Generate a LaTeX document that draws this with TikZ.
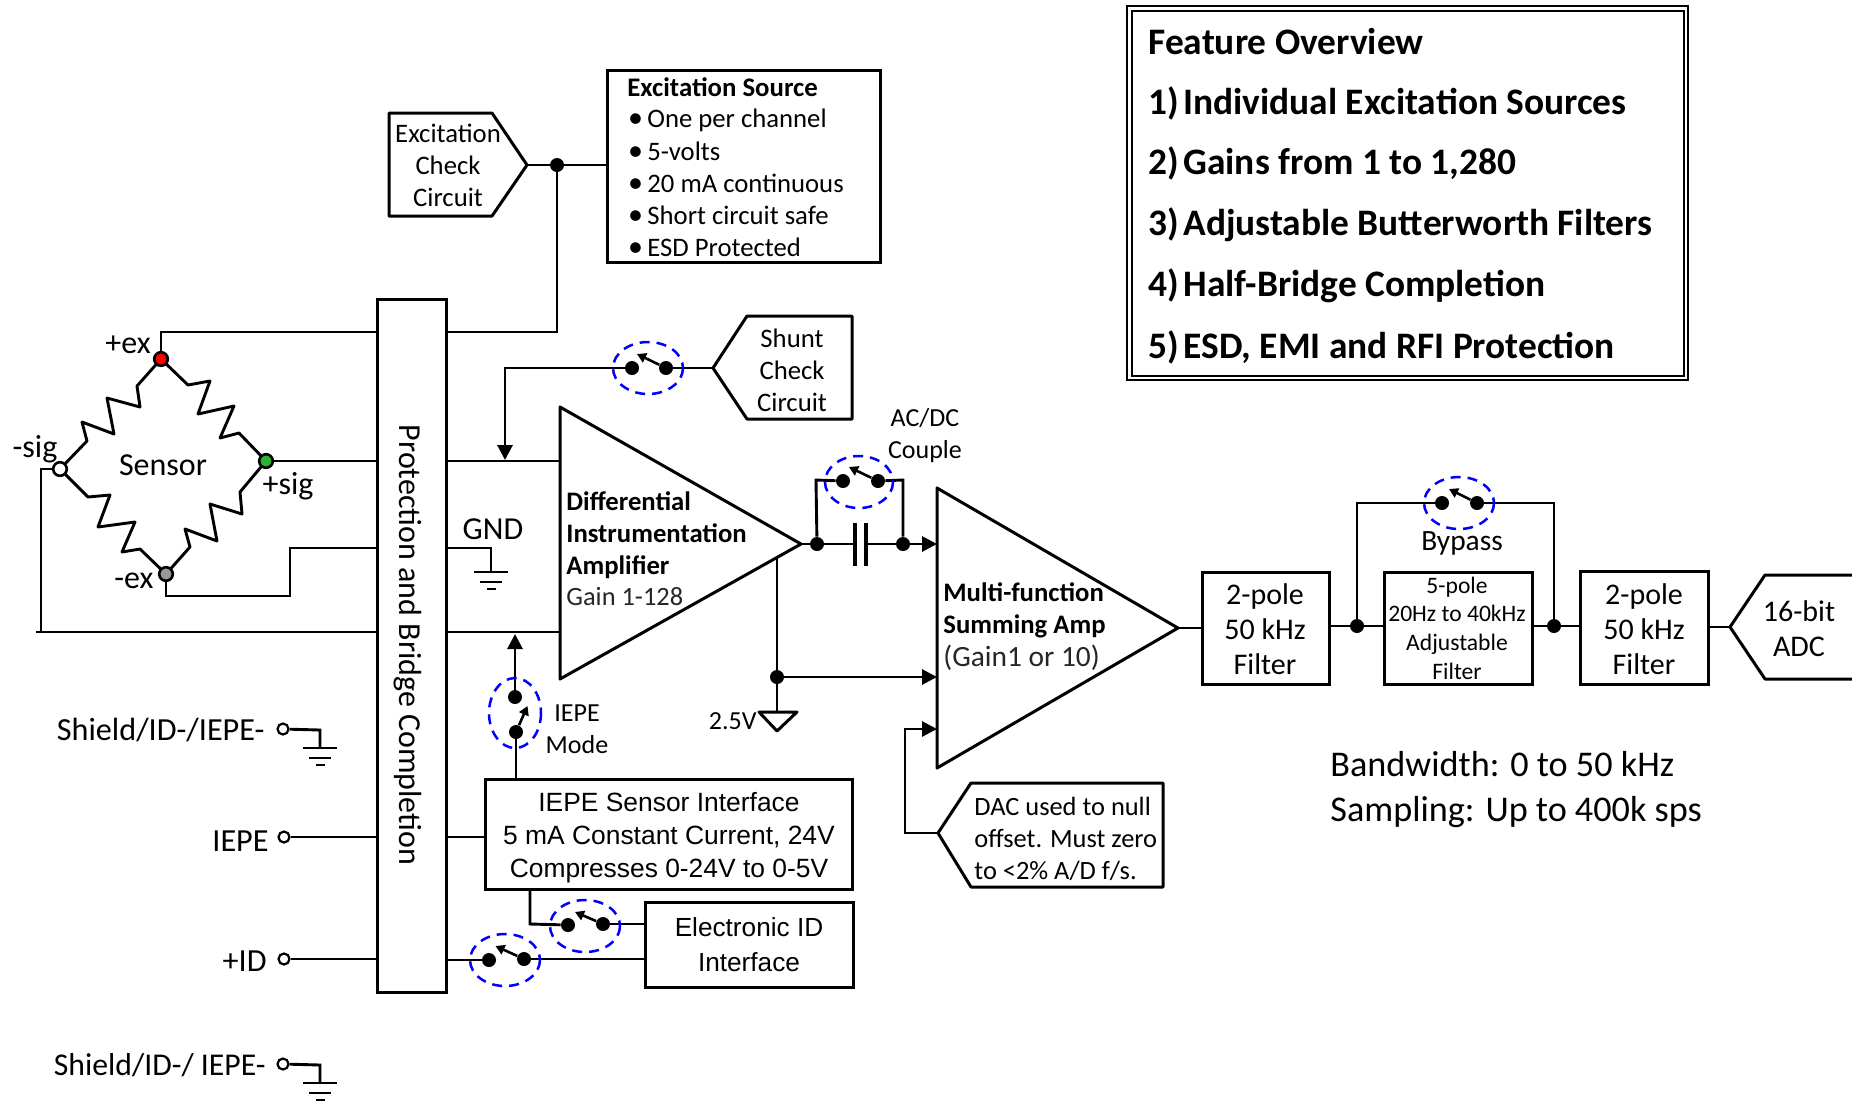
\documentclass[tikz,border=0pt]{standalone}
\usepackage{fontspec}
\setmainfont{Carlito}
\newfontfamily\arialf{Liberation Sans}
\usetikzlibrary{arrows.meta,calc}
\newcommand{\bul}{\makebox[9pt][l]{\hspace{-0.7pt}\fontsize{15}{15}\selectfont•}}
\tikzset{
  wire/.style={line width=1.45pt,line join=miter},
  boxs/.style={draw,line width=1.5pt,fill=white,inner sep=0pt,align=center},
  shp/.style={draw,line width=1.5pt,line join=round,fill=white},
  lbl/.style={inner sep=0pt,align=center,font=\fontsize{13.35}{16}\selectfont},
  lleft/.style={inner sep=0pt,align=left,anchor=west,font=\fontsize{13.35}{16}\selectfont},
  dotn/.style={circle,fill=black,inner sep=0pt,minimum size=7pt},
  jn/.style={circle,fill=black,inner sep=0pt,minimum size=7pt},
  term/.style={circle,draw,fill=white,line width=1.1pt,inner sep=0pt,minimum size=5.5pt},
  bdot/.style={circle,draw,line width=1.3pt,inner sep=0pt,minimum size=6.8pt},
  tip/.style={-{Triangle[length=7.5pt,width=7.5pt]}},
  swtip/.style={-{Triangle[length=4.5pt,width=5pt]},line width=1.3pt},
  swring/.style={blue,line width=1.25pt,dash pattern=on 5pt off 3.5pt},
  big/.style={inner sep=0pt,align=center,font=\fontsize{16}{18}\selectfont},
  flt/.style={inner sep=0pt,align=center,font=\fontsize{15}{17.5}\selectfont},
}
\newcommand{\gnd}[3]{% name, x, y : three bars below the point
  \coordinate (#1) at (#2,#3);
  \draw[wire] ($(#1)+(-17,0)$) -- ($(#1)+(17,0)$);
  \draw[wire] ($(#1)+(-11,10)$) -- ($(#1)+(11,10)$);
  \draw[wire] ($(#1)+(-4.5,17)$) -- ($(#1)+(4.5,17)$);
}
\begin{document}
\begin{tikzpicture}[x=0.5pt,y=-0.5pt]
\useasboundingbox (0,0) rectangle (1852,1100);
\fill[white] (0,0) rectangle (1852,1100);

%% Feature overview
\node[draw,line width=1pt,minimum width=280.5pt,minimum height=187pt,inner sep=0pt] (featOuter) at (1407.5,193) {};
\node[draw,line width=1pt,minimum width=276pt,minimum height=182.5pt,inner sep=0pt] (featInner) at (1407.5,193) {};
\tikzset{fea/.style={inner sep=0pt,anchor=west,font=\bfseries\fontsize{18.7}{21}\selectfont}}
\node[fea] (f0) at (1148,42) {Feature Overview};
\node[fea] (f1) at (1148,103) {\makebox[17.5pt][l]{1)}Individual Excitation Sources};
\node[fea] (f2) at (1148,163.5) {\makebox[17.5pt][l]{2)}Gains from 1 to 1,280};
\node[fea] (f3) at (1148,225) {\makebox[17.5pt][l]{3)}Adjustable Butterworth Filters};
\node[fea] (f4) at (1148,286) {\makebox[17.5pt][l]{4)}Half-Bridge Completion};
\node[fea] (f5) at (1148,347) {\makebox[17.5pt][l]{5)}ESD, EMI and RFI Protection};

%% Excitation
\draw[shp] (389,113) coordinate (ec1) -- (492,113) -- (527,165) coordinate (ecTip) -- (492,216) -- (389,216) -- cycle;
\node[lbl] (ecText) at (448,165) {Excitation\\Check\\Circuit};
\node[boxs,minimum width=136.5pt,minimum height=96pt] (exBox) at (744,166) {};
\node[lleft,font=\bfseries\fontsize{13.4}{16}\selectfont] (exT) at (627,87) {Excitation Source};
\node[lleft] (ex1) at (629,120) {\bul One per channel};
\node[lleft] (ex2) at (629,151) {\bul 5-volts};
\node[lleft] (ex3) at (629,183) {\bul 20 mA continuous};
\node[lleft] (ex4) at (629,215) {\bul Short circuit safe};
\node[lleft] (ex5) at (629,247) {\bul ESD Protected};

%% Protection box
\node[boxs,minimum width=34.5pt,minimum height=346.5pt] (prot) at (411.5,645.5) {};
\node[inner sep=0pt,rotate=-90,font=\fontsize{16}{18}\selectfont] (protT) at (408,645) {Protection and Bridge Completion};

\node[jn] (jEx) at (557,165) {};
\draw[wire] (ecTip) -- (jEx) -- (exBox.west |- jEx);
\coordinate (pEx) at (446,332);
\draw[wire] (jEx) -- (557,332) -- (pEx);

%% Amp 1
\draw[shp] (560,407) coordinate (a1top) -- (801,544) coordinate (a1tip) -- (560,679) coordinate (a1bot) -- cycle;
\node[lleft,font=\bfseries\fontsize{13.35}{16}\selectfont] (a1t) at (566,535) {Differential\\Instrumentation\\Amplifier};
\node[lleft,font=\fontsize{13.2}{15}\selectfont,text=black!85] (a1g) at (566,596) {Gain 1-128};

%% Sensor bridge
\coordinate (sT) at (161,359);
\coordinate (sR) at (266,461);
\coordinate (sL) at (60,469);
\coordinate (sB) at (166,574);
\draw[wire,line join=round] (sT) -- (188,385) -- (210,381) -- (198,414) -- (234,406) -- (220,438) -- (239,433) -- (sR);
\draw[wire,line join=round] (sT) -- (137,386) -- (140,407) -- (107,398) -- (114,434) -- (82,422) -- (87,441) -- (sL);
\draw[wire,line join=round] (sL) -- (88,497) -- (110,495) -- (98,527) -- (135,522) -- (122,552) -- (140,549) -- (sB);
\draw[wire,line join=round] (sR) -- (240,492) -- (242,514) -- (210,504) -- (217,541) -- (185,529) -- (190,547) -- (sB);

%% Sensor wires
\draw[wire] (sT) -- (161,332) -- (prot.west |- 0,332);
\draw[wire] (sR) -- (sR -| prot.west);
\draw[wire] (sB) -- (166,596) -- (290,596) -- (290,548) -- (prot.west |- 0,548);
\draw[wire] (sL) -- (41,469) -- (41,632);
\draw[wire] (36,632) -- (prot.west |- 0,632);
\draw[wire] (sR -| prot.east) -- (sR -| a1top);
\draw[wire] (prot.east |- 0,632) -- (a1top |- 0,632);
\draw[wire] (prot.east |- 0,548) -- (491,548) -- (491,572);
\gnd{gA}{491}{572}
\node[big] (gndT) at (493,529) {GND};

\node[bdot,fill=red] (nT) at (sT) {};
\node[bdot,fill={rgb,255:red,40;green,180;blue,50}] (nR) at (sR) {};
\node[bdot,fill=white] (nL) at (sL) {};
\node[bdot,fill=black!40] (nB) at (sB) {};
\node[big] (sens) at (163,465) {Sensor};
\node[big] (lT) at (128,345) {+ex};
\node[big] (lL) at (35,449) {-sig};
\node[big] (lR) at (288,486) {+sig};
\node[big] (lB) at (134,581) {-ex};

%% Shunt
\draw[shp] (713,368) coordinate (shTip) -- (747,316) -- (852,316) -- (852,419) -- (747,419) -- cycle;
\node[lbl] (shT) at (792,370) {Shunt\\Check\\Circuit};
\node[dotn] (sw1a) at (632,368) {};
\node[dotn] (sw1b) at (666,368) {};
\draw[wire] (shTip) -- (sw1b);
\draw[wire,tip] (sw1a) -- (505,368) -- (505,460);
\draw[swtip] (sw1b) -- (637,354);
\draw[swring] (648,368) ellipse [x radius=35,y radius=26];

%% AC/DC
\node[jn] (j1) at (817,544) {};
\node[jn] (j2) at (903,544) {};
\coordinate (capL) at (855,544);
\coordinate (capR) at (866,544);
\draw[wire] (a1tip) -- (j1) -- (capL);
\draw[wire] (capR) -- (j2);
\draw[line width=2pt] (855,523) -- (855,566);
\draw[line width=2pt] (866,523) -- (866,566);
\node[dotn] (sw2a) at (843,481) {};
\node[dotn] (sw2b) at (878,481) {};
\draw[wire] (j1) -- (816,480) -- (sw2a);
\draw[wire] (j2) -- (903,480) -- (sw2b);
\draw[swtip] (sw2b) -- (849,467);
\draw[swring] (859,482) ellipse [x radius=34,y radius=26];
\node[lbl,font=\fontsize{13}{16}\selectfont] (acT) at (925,436) {AC/DC\\Couple};

%% Amp 2
\draw[shp] (937,488) coordinate (a2top) -- (1178,628) coordinate (a2tip) -- (937,768) coordinate (a2bot) -- cycle;
\draw[wire,tip] (j2) -- (a2top |- j2);
\node[lleft,font=\bfseries\fontsize{13.35}{16}\selectfont] (a2t) at (943,610) {Multi-function\\Summing Amp};
\node[lleft,font=\fontsize{14.7}{16}\selectfont,text=black!85] (a2g) at (943,658) {(Gain1 or 10)};

%% 2.5V
\node[jn] (j3) at (777,677) {};
\coordinate (a1low) at (777,557);
\draw[wire] (a1low) -- (j3);
\draw[wire,tip] (j3) -- (a2top |- j3);
\draw[shp] (759,712) coordinate (tvL) -- (797,712) -- (777,731) -- cycle;
\draw[wire] (j3) -- (777,712);
\node[lbl,anchor=east,font=\fontsize{13}{14}\selectfont] (v25) at (757,721) {2.5V};

%% DAC
\draw[shp] (938,833) coordinate (dacTip) -- (971,783) -- (1163,783) -- (1163,887) -- (971,887) -- cycle;
\node[lleft,font=\fontsize{13.2}{16}\selectfont] (dacT) at (974,839) {DAC used to null\\offset. Must zero\\to <2\% A/D f/s.};
\draw[wire,tip] (dacTip) -- (905,833) -- (905,729) -- (a2top |- 0,729);

%% Filter chain
\node[boxs,minimum width=63.5pt,minimum height=56pt] (f1b) at (1265.5,628) {};
\node[flt] (f1t) at (1265,629) {2-pole\\50 kHz\\Filter};
\draw[wire] (a2tip) -- (f1b.west |- a2tip);
\node[boxs,minimum width=74pt,minimum height=56pt] (f5b) at (1458,628) {};
\node[lbl,font=\fontsize{11.8}{14.3}\selectfont] (f5t) at (1457,628) {5-pole\\20Hz to 40kHz\\Adjustable\\Filter};
\node[boxs,minimum width=64pt,minimum height=56.5pt] (f2b) at (1644,627.5) {};
\node[flt] (f2t) at (1644,629) {2-pole\\50 kHz\\Filter};
\node[jn] (j4) at (1357,626) {};
\node[jn] (j5) at (1554,626) {};
\draw[wire] (f1b.east |- j4) -- (j4) -- (f5b.west |- j4);
\draw[wire] (f5b.east |- j5) -- (j5) -- (f2b.west |- j5);
\node[dotn] (sw3a) at (1442,503) {};
\node[dotn] (sw3b) at (1477,503) {};
\draw[wire] (j4) -- (1357,503) -- (sw3a);
\draw[wire] (j5) -- (1554,503) -- (sw3b);
\draw[swtip] (sw3b) -- (1449,489);
\draw[swring] (1459,503) ellipse [x radius=35,y radius=26];
\node[lbl,font=\fontsize{14.7}{16}\selectfont] (byp) at (1462,543) {Bypass};
\coordinate (adcTip) at (1730,627);
\draw[wire] (f2b.east |- adcTip) -- (adcTip);
\draw[shp] (1860,575) -- (1765,575) -- (adcTip) -- (1765,679) -- (1860,679);
\node[flt] (adcT) at (1799,629) {16-bit\\ADC};

%% Bandwidth
\node[lleft,font=\fontsize{18.1}{22.5}\selectfont] (bw) at (1330,790) {Bandwidth: 0 to 50 kHz\\Sampling: Up to 400k sps};

%% IEPE
\node[boxs,minimum width=183.5pt,minimum height=55pt] (iBox) at (669,834) {};
\node[lbl,font=\arialf\fontsize{13.2}{16.4}\selectfont] (iT) at (669,837.5) {IEPE Sensor Interface\\5 mA Constant Current, 24V\\Compresses 0-24V to 0-5V};
\node[boxs,minimum width=104pt,minimum height=42.5pt] (idBox) at (749,944.5) {};
\node[lbl,font=\arialf\fontsize{13.1}{17.5}\selectfont] (idT) at (749,945) {Electronic ID\\Interface};
\node[dotn] (sw4a) at (516,732) {};
\node[dotn] (sw4b) at (515,697) {};
\draw[wire] (iBox.north -| sw4a) -- (sw4a);
\draw[wire,tip] (sw4b) -- (515,634);
\draw[swtip] (sw4a) -- (527.5,706);
\draw[swring] (515,713) ellipse [x radius=26,y radius=35];
\node[lbl,font=\fontsize{13}{16}\selectfont] (iM) at (577,729) {IEPE\\Mode};
\node[term] (tI) at (284,837) {};
\node[term] (tD) at (284,959) {};
\node[term] (tS1) at (283,729) {};
\node[term] (tS2) at (283,1064) {};
\draw[wire] (tI) -- (prot.west |- tI);
\draw[wire] (tD) -- (prot.west |- tD);
\draw[wire] (prot.east |- tI) -- (iBox.west |- tI);
\tikzset{tl/.style={inner sep=0pt,anchor=east,font=\fontsize{16.1}{18}\selectfont}}
\node[tl] (ltI) at (269,841) {IEPE};
\node[tl] (ltD) at (267,961) {+ID};
\node[tl] (ltS1) at (265,730) {Shield/ID-/IEPE-};
\node[tl,font=\fontsize{15.85}{18}\selectfont] (ltS2) at (266,1065) {Shield/ID-/ IEPE-};
\draw[wire] (tS1) -- (320,730) -- (320,748);
\gnd{g1}{320}{748}
\draw[wire] (tS2) -- (320,1065) -- (320,1083);
\gnd{g2}{320}{1083}

%% ID switches
\node[dotn] (sw5a) at (568,925) {};
\node[dotn] (sw5b) at (603,924) {};
\draw[wire] (iBox.south -| 530,0) -- (530,924) -- (sw5a);
\draw[wire] (sw5b) -- (idBox.west |- sw5b);
\draw[swtip] (sw5b) -- (575,912);
\draw[swring] (585,926) ellipse [x radius=35,y radius=26];
\node[dotn] (sw6a) at (489,960) {};
\node[dotn] (sw6b) at (524,959) {};
\draw[wire] (prot.east |- sw6a) -- (sw6a);
\draw[wire] (sw6b) -- (idBox.west |- sw6b);
\draw[swtip] (sw6b) -- (495.5,946);
\draw[swring] (505,960) ellipse [x radius=35,y radius=26];
\end{tikzpicture}
\end{document}
